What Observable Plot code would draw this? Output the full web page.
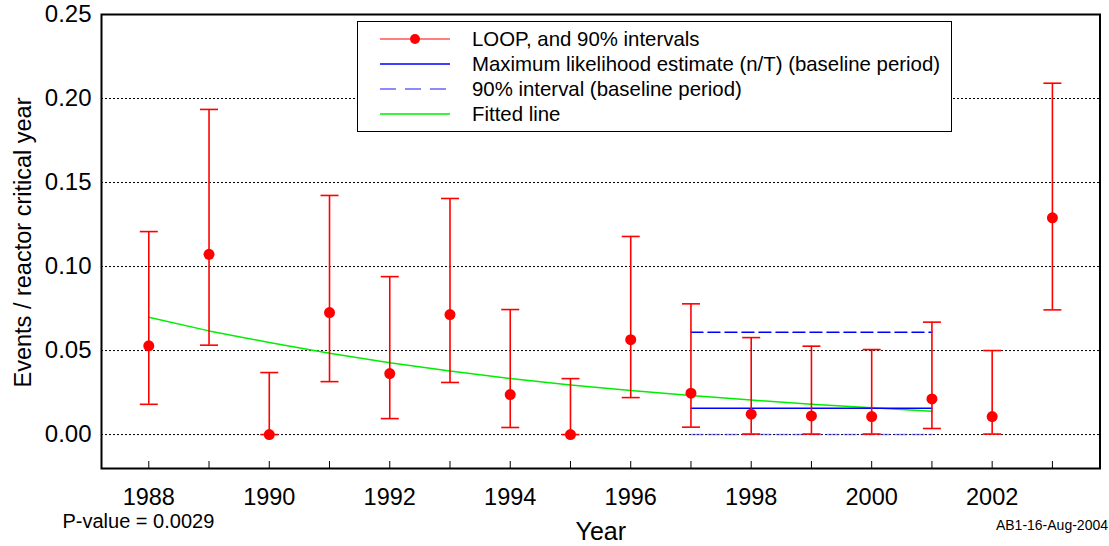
<!DOCTYPE html>
<html>
<head>
<meta charset="utf-8">
<script src="https://cdn.jsdelivr.net/npm/d3@7"></script>
<script src="https://cdn.jsdelivr.net/npm/@observablehq/plot@0.6"></script>
<style>
  html, body { margin: 0; padding: 0; background: white; }
  #wrap { position: relative; width: 1109px; height: 546px; font-family: "Liberation Sans", Arial, sans-serif; }
  #legend { position: absolute; left: 357px; top: 21px; width: 595px; height: 111px; background: white; border: 1px solid black; box-sizing: border-box; }
  .row { position: absolute; left: 0; height: 25px; width: 100%; }
  .row svg { position: absolute; left: 22px; top: 0; }
  .row span { position: absolute; left: 114px; top: 1px; font-size: 20.4px; line-height: 22px; white-space: nowrap; color: black; }
</style>
</head>
<body>
<div id="wrap">
  <div id="chart"></div>
  <div id="legend"></div>
</div>
<script>
// ---- data ----
const years = [1988, 1989, 1990, 1991, 1992, 1993, 1994, 1995, 1996, 1997, 1998, 1999, 2000, 2001, 2002, 2003];
const estimate = [0.0528, 0.1073, 0.0, 0.0726, 0.0363, 0.0714, 0.0238, 0.0, 0.0565, 0.0246, 0.0121, 0.0111, 0.0107, 0.0212, 0.0107, 0.129];
const lower = [0.018, 0.0532, 0.0, 0.0315, 0.0095, 0.031, 0.0042, 0.0, 0.022, 0.0044, 0.0003, 0.0003, 0.0003, 0.0036, 0.0003, 0.0742];
const upper = [0.1208, 0.1935, 0.0369, 0.1423, 0.094, 0.1405, 0.0744, 0.0333, 0.1179, 0.0778, 0.0577, 0.0526, 0.0506, 0.0669, 0.050, 0.2091];

const fitYears = [1988, 1989, 1990, 1991, 1992, 1993, 1994, 1995, 1996, 1997, 1998, 1999, 2000, 2001];
const fitted = [0.0698, 0.0617, 0.0548, 0.0484, 0.0428, 0.0378, 0.0334, 0.0295, 0.0262, 0.0232, 0.0205, 0.0181, 0.0159, 0.0139];

const baselineYears = [1997, 1998, 1999, 2000, 2001];
const baselineMLE = 0.0157;
const baselineLow = 0.0;
const baselineHigh = 0.0609;

const yTicks = [0, 0.05, 0.10, 0.15, 0.20, 0.25];
const gridValues = [0, 0.05, 0.10, 0.15, 0.20];
const xLabelYears = [1988, 1990, 1992, 1994, 1996, 1998, 2000, 2002];

const legendItems = [
  {label: "LOOP, and 90% intervals", kind: "loop"},
  {label: "Maximum likelihood estimate (n/T) (baseline period)", kind: "mle"},
  {label: "90% interval (baseline period)", kind: "interval"},
  {label: "Fitted line", kind: "fit"}
];

const pValueText = "P-value = 0.0029";
const stampText = "AB1-16-Aug-2004";

// ---- derived tables ----
const points = years.map((y, i) => ({year: y, est: estimate[i], lo: lower[i], hi: upper[i]}));
const fitData = fitYears.map((y, i) => ({year: y, v: fitted[i]}));
const mleData = baselineYears.map(y => ({year: y, v: baselineMLE}));
const lowData = baselineYears.map(y => ({year: y, v: baselineLow}));
const highData = baselineYears.map(y => ({year: y, v: baselineHigh}));

const capSymbol = {
  draw(context, size) {
    const w = 9;
    context.moveTo(-w, 0);
    context.lineTo(w, 0);
  }
};

const FONT = "Liberation Sans, Arial, sans-serif";

const chart = Plot.plot({
  width: 1109,
  height: 546,
  marginLeft: 101,
  marginRight: 9.5,
  marginTop: 14,
  marginBottom: 78,
  x: {domain: [1987.215, 2003.79]},
  y: {domain: [-0.0202, 0.25]},
  style: {fontFamily: FONT, background: "white", color: "black", overflow: "visible"},
  marks: [
    Plot.ruleY(gridValues, {stroke: "black", strokeWidth: 1, strokeDasharray: "2,2"}),
    Plot.ruleX(years, {x: d => d, insetTop: 447, stroke: "black", strokeWidth: 1}),
    Plot.axisY({ticks: yTicks, tickFormat: d3.format(".2f"), tickSize: 0, tickPadding: 10, fontSize: 24, label: null}),
    Plot.axisX({ticks: xLabelYears, tickFormat: d => String(d), tickSize: 0, tickPadding: 20, fontSize: 23.5, label: null}),
    Plot.line(fitData, {x: "year", y: "v", stroke: "#00ee00", strokeWidth: 1.5}),
    Plot.line(highData, {x: "year", y: "v", stroke: "#0000ff", strokeWidth: 1.5, strokeDasharray: "12,5"}),
    Plot.line(lowData, {x: "year", y: "v", stroke: "#3333ff", strokeWidth: 1.5, strokeDasharray: "12,5", strokeOpacity: 0.5}),
    Plot.line(mleData, {x: "year", y: "v", stroke: "#0000ff", strokeWidth: 1.5}),
    Plot.ruleX(points, {x: "year", y1: "lo", y2: "hi", stroke: "red", strokeWidth: 1.6}),
    Plot.dot(points, {x: "year", y: "hi", symbol: capSymbol, r: 9, stroke: "red", fill: "none", strokeWidth: 1.6}),
    Plot.dot(points, {x: "year", y: "lo", symbol: capSymbol, r: 9, stroke: "red", fill: "none", strokeWidth: 1.6}),
    Plot.dot(points, {x: "year", y: "est", r: 5.5, fill: "red", stroke: "none"}),
    Plot.frame({stroke: "black", strokeWidth: 2}),
    Plot.text(["Year"], {frameAnchor: "bottom", dy: 71, textAnchor: "middle", fontSize: 25, fill: "black"}),
    Plot.text(["Events / reactor critical year"], {frameAnchor: "left", dx: -78, dy: 1, rotate: -90, textAnchor: "middle", fontSize: 23.5, fill: "black"}),
    Plot.text([pValueText], {frameAnchor: "bottom-left", dx: -39, dy: 59, textAnchor: "start", fontSize: 20, fill: "black"}),
    Plot.text([stampText], {frameAnchor: "bottom-right", dx: 8, dy: 61, textAnchor: "end", fontSize: 14, fill: "black"})
  ]
});
document.getElementById("chart").appendChild(chart);

// ---- legend (overlay inside the plot area) ----
const legend = document.getElementById("legend");
legendItems.forEach((item, i) => {
  const row = document.createElement("div");
  row.className = "row";
  row.style.top = (5 + i * 25) + "px";
  let sample = "";
  if (item.kind === "loop") {
    sample = `<line x1="0" y1="12" x2="70" y2="12" stroke="#ff5555" stroke-width="1.6"/><circle cx="35" cy="12" r="5" fill="red"/>`;
  } else if (item.kind === "mle") {
    sample = `<line x1="0" y1="12" x2="70" y2="12" stroke="#0000ff" stroke-width="1.3"/>`;
  } else if (item.kind === "interval") {
    sample = `<line x1="0" y1="12" x2="70" y2="12" stroke="#6666ff" stroke-width="1.5" stroke-dasharray="16,9"/>`;
  } else {
    sample = `<line x1="0" y1="12" x2="70" y2="12" stroke="#00ee00" stroke-width="1.5"/>`;
  }
  row.innerHTML = `<svg width="72" height="24">${sample}</svg><span>${item.label}</span>`;
  legend.appendChild(row);
});
</script>
</body>
</html>
